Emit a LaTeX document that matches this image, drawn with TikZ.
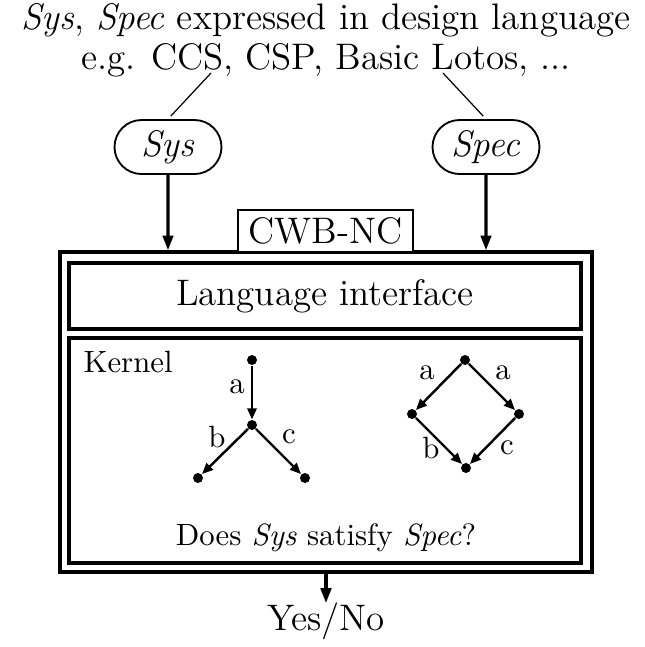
\documentclass[tikz,border=0pt]{standalone}
\usetikzlibrary{arrows.meta,shapes.misc}
\newcommand\pxu{0.325pt}
\begin{document}
\begin{tikzpicture}[x=0.325pt,y=-0.325pt,
  txt/.style={inner sep=0pt, anchor=base},
  termbox/.style={draw, rounded rectangle, line width=0.6pt, inner sep=0pt,
    minimum width=107*\pxu, minimum height=54*\pxu, font=\large},
  thinline/.style={line width=0.4pt},
  bigarrow/.style={-{Triangle[length=4.8pt,width=3.4pt]}, line width=1pt},
  framebox/.style={draw, line width=1.1pt, inner sep=0pt},
  dot/.style={circle, fill, inner sep=0pt, minimum size=10*\pxu},
  edgearrow/.style={-{Triangle[length=3.6pt,width=3pt]}, line width=0.8pt},
  elabel/.style={inner sep=0pt}
]
\useasboundingbox (0,0) rectangle (644,647);

% title
\node[txt, font=\large] (title1) at (326,29) {\textit{Sys}, \textit{Spec} expressed in design language};
\node[txt, font=\large] (title2) at (326,69) {e.g. CCS, CSP, Basic Lotos, ...};
\coordinate (tsys) at (211,73);
\coordinate (tspec) at (443,73);

% terms
\node[termbox] (sys) at (168,147) {\textit{Sys}};
\node[termbox] (spec) at (486,147) {\textit{Spec}};
\draw[thinline, shorten >=4*\pxu] (tsys) -- (sys.north);
\draw[thinline, shorten >=4*\pxu] (tspec) -- (spec.north);

% boxes
\node[framebox, minimum width=532*\pxu, minimum height=320*\pxu] (outer) at (326,412) {};
\node[framebox, minimum width=512*\pxu, minimum height=66*\pxu, font=\large] (lang) at (325,296) {Language interface};
\node[framebox, minimum width=512*\pxu, minimum height=225*\pxu] (kernel) at (325,450.5) {};
\node[draw, line width=0.85pt, fill=white, minimum width=175*\pxu, minimum height=42*\pxu, inner sep=0pt, font=\large] (cwb) at (325.5,231) {CWB-NC};

\draw[bigarrow] (sys) -- (sys |- outer.north);
\draw[bigarrow] (spec) -- (spec |- outer.north);

% kernel content
\node[txt, anchor=base west] (klabel) at (83,372) {Kernel};
\node[txt] (question) at (326,545) {Does \textit{Sys} satisfy \textit{Spec}?};

\node[dot] (ta) at (252,360) {};
\node[dot] (tb) at (252,425) {};
\node[dot] (tc) at (198,478) {};
\node[dot] (td) at (305,478) {};
\draw[edgearrow] (ta) -- (tb);
\draw[edgearrow] (tb) -- (tc);
\draw[edgearrow] (tb) -- (td);
\node[elabel] (la) at (237,387) {a};
\node[elabel] (lb) at (217,437) {b};
\node[elabel] (lc) at (289,437) {c};

\node[dot] (da) at (465,360) {};
\node[dot] (db) at (412,414) {};
\node[dot] (dc) at (519,414) {};
\node[dot] (dd) at (466,468) {};
\draw[edgearrow] (da) -- (db);
\draw[edgearrow] (da) -- (dc);
\draw[edgearrow] (db) -- (dd);
\draw[edgearrow] (dc) -- (dd);
\node[elabel] (ma) at (427,373) {a};
\node[elabel] (mb) at (503,373) {a};
\node[elabel] (mc) at (431,448) {b};
\node[elabel] (md) at (507,448) {c};

% output
\node[txt, font=\large] (yn) at (326,630) {Yes/No};
\draw[bigarrow] (outer.south) -- (outer.south |- 0,603);
\end{tikzpicture}
\end{document}
